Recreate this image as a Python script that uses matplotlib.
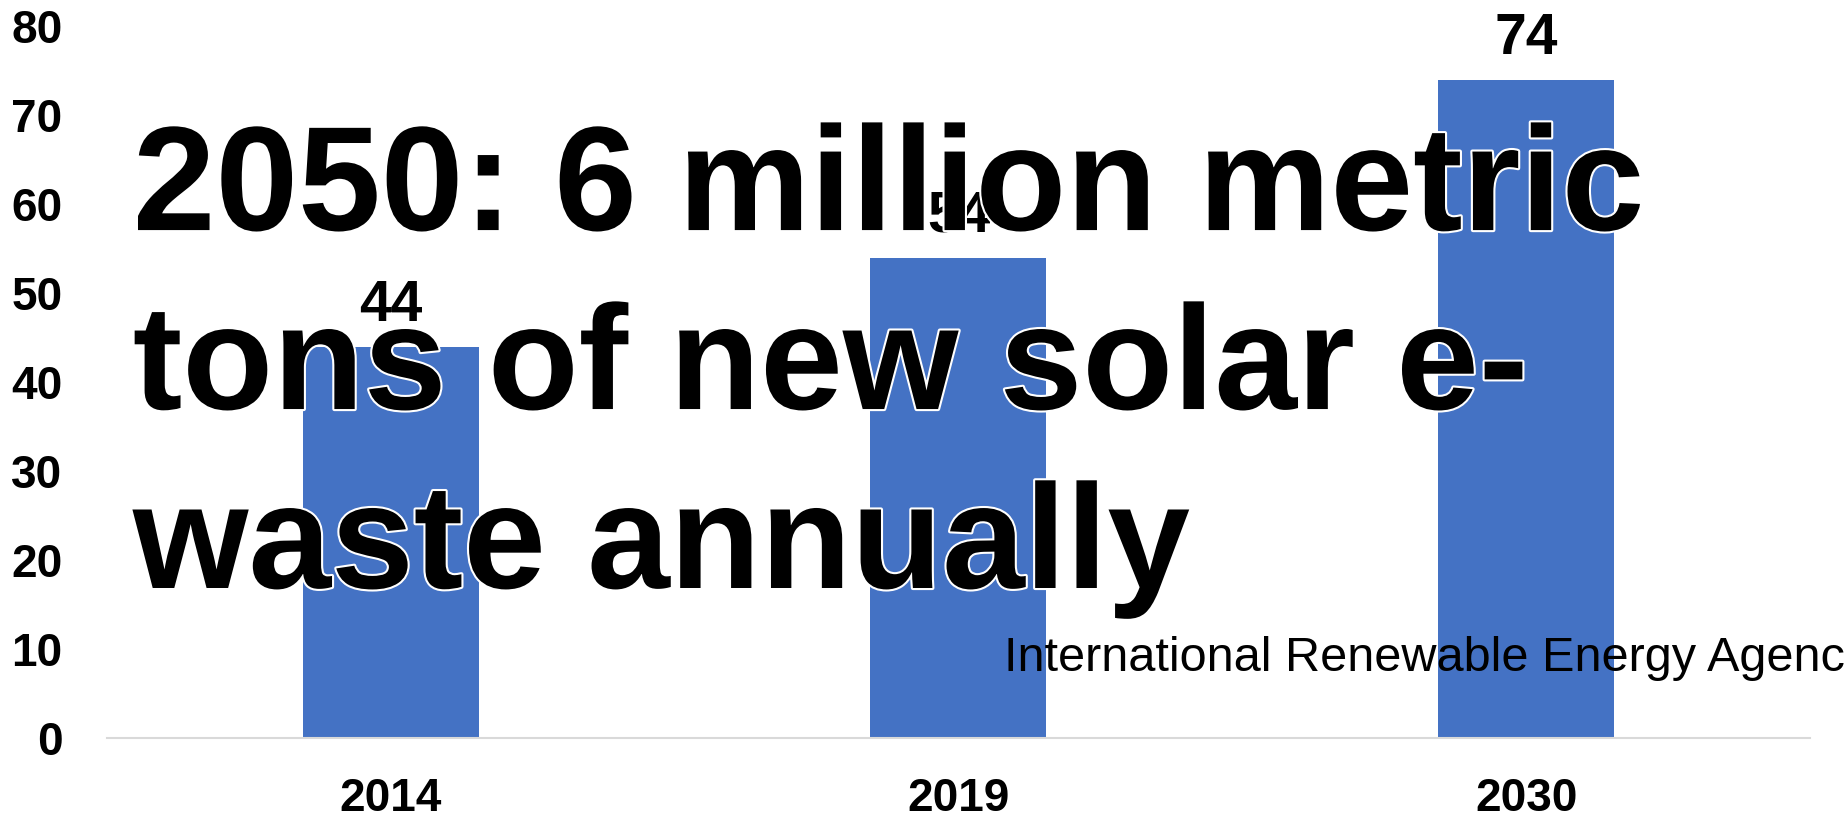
import matplotlib.pyplot as plt
import matplotlib.patheffects as pe

# data
years = ["2014", "2019", "2030"]
values = [44, 54, 74]
y_ticks = [0, 10, 20, 30, 40, 50, 60, 70, 80]
headline = "2050: 6 million metric\ntons of new solar e-\nwaste annually"
source = "International Renewable Energy Agency"

plt.rcParams['font.family'] = ['Liberation Sans', 'DejaVu Sans']

fig = plt.figure(figsize=(18.45, 8.21), dpi=100)
ax = fig.add_axes([0.058, 0.101, 0.923, 0.867])

x = range(len(years))
ax.bar(x, values, width=0.31, color='#4472C4', zorder=2)

# value labels above bars
for i, v in zip(x, values):
    ax.annotate(str(v), (i, v), xytext=(0, 10), textcoords='offset points',
                ha='center', va='bottom', fontsize=41, fontweight='bold')

ax.set_xlim(-0.5, 2.5)
ax.set_ylim(0, 80)
ax.set_yticks(y_ticks)
ax.set_xticks(list(x))
ax.set_xticklabels(years)
ax.tick_params(axis='y', length=0, labelsize=33, pad=32)
ax.tick_params(axis='x', length=0, labelsize=33, pad=28)
for lab in ax.get_xticklabels() + ax.get_yticklabels():
    lab.set_fontweight('bold')

for s in ['top', 'right', 'left']:
    ax.spines[s].set_visible(False)
ax.spines['bottom'].set_color('#D9D9D9')
ax.spines['bottom'].set_linewidth(1.5)

# big headline with white outline (y = baseline of last line)
fig.text(0.072, 1 - 588 / 821, headline, fontsize=107, fontweight='bold',
         ha='left', va='baseline', linespacing=1.37, color='black',
         path_effects=[pe.withStroke(linewidth=3, foreground='white')], zorder=5)

# source line, runs past the right edge as in the original
fig.text(1004 / 1845, 1 - 671 / 821, source, fontsize=35, ha='left', va='baseline',
         family=['Liberation Sans Narrow', 'Liberation Sans'], zorder=6)

fig.savefig('out.png', dpi=100)
